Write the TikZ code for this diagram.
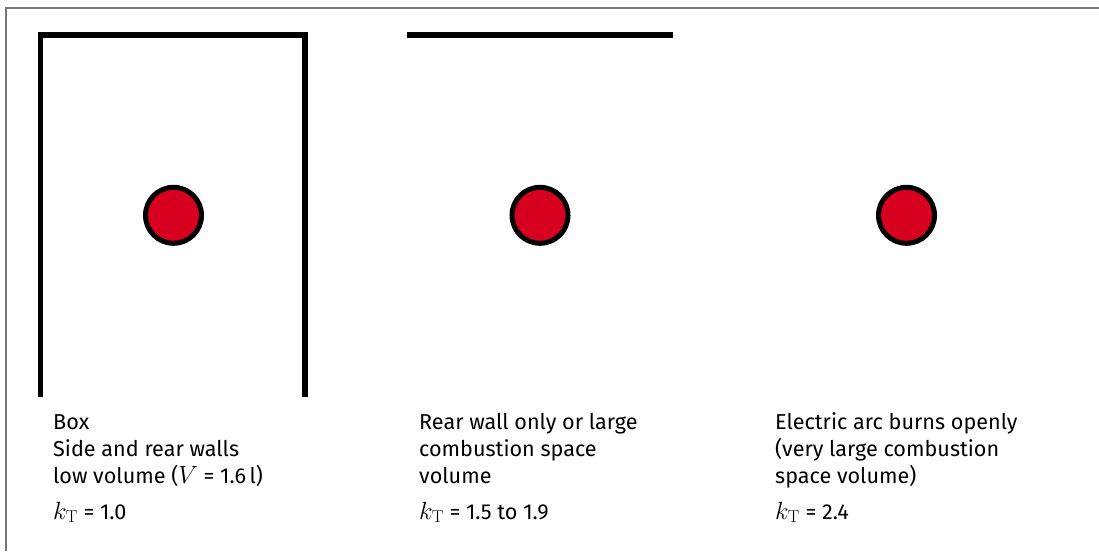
\documentclass[tikz,border=0pt]{standalone}
\usepackage[no-math]{fontspec}
\setmainfont{Fira Sans}
\definecolor{arcred}{RGB}{215,0,30}
\definecolor{framegray}{RGB}{120,120,120}
\newcommand\mvar[1]{{\fontsize{23.5}{26}\selectfont$#1$}}
\begin{document}
\begin{tikzpicture}[x=1pt,y=-1pt,
  wall/.style={line width=5.5pt,line cap=butt},
  arc/.style={circle,draw=black,fill=arcred,line width=5pt,minimum size=56pt,inner sep=0pt},
  caption/.style={anchor=base west,align=left,inner sep=0pt,font=\fontsize{21.6}{26.7}\selectfont},
  kval/.style={anchor=base west,inner sep=0pt,font=\fontsize{21.6}{26.7}\selectfont}]
\useasboundingbox (0,0) rectangle (1099,551);
% frame
\coordinate (ftl) at (6,8);
\coordinate (ftr) at (1099,8);
\coordinate (fbl) at (6,551);
\draw[framegray,line width=1.2pt] (fbl) -- (ftl) -- (ftr);
% box
\coordinate (b1) at (40.5,397);
\coordinate (b2) at (40.5,35);
\coordinate (b3) at (305,35);
\coordinate (b4) at (305,397);
\draw[wall,line join=miter] (b1) -- (b2) -- (b3) -- (b4);
% rear wall
\coordinate (r1) at (407,35);
\coordinate (r2) at (673,35);
\draw[wall] (r1) -- (r2);
% arcs
\node[arc] (a1) at (173.5,215.3) {};
\node[arc] (a2) at (540,215.3) {};
\node[arc] (a3) at (906.5,215.3) {};
% captions
\node[caption] (t1) at (53,483.3) {Box\\Side and rear walls\\low volume (\mvar{V} = 1.6\,l)};
\node[kval] (k1) at (53,519) {\mvar{k_{\mathrm{T}}} = 1.0};
\node[caption] (t2) at (419,483.3) {Rear wall only or large\\combustion space\\volume};
\node[kval] (k2) at (419,519) {\mvar{k_{\mathrm{T}}} = 1.5 to 1.9};
\node[caption] (t3) at (775,483.3) {Electric arc burns openly\\(very large combustion\\space volume)};
\node[kval] (k3) at (775,519) {\mvar{k_{\mathrm{T}}} = 2.4};
\end{tikzpicture}
\end{document}
